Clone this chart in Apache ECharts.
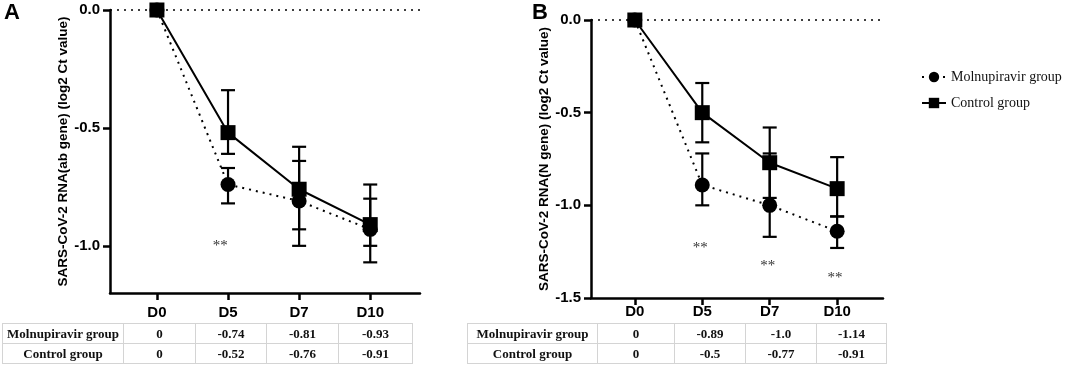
<!DOCTYPE html>
<html>
<head>
<meta charset="utf-8">
<script src="https://cdn.jsdelivr.net/npm/echarts@6/dist/echarts.min.js"></script>
<style>
  body{margin:0;background:#fff;}
  #wrap{position:relative;width:1065px;height:368px;}
  #chart{position:absolute;left:0;top:0;width:1065px;height:368px;}
  table.tb{position:absolute;border-collapse:collapse;font-family:"Liberation Serif",serif;font-weight:bold;font-size:13px;color:#111;}
  table.tb td{border:1px solid #d4d4d4;height:19px;padding:0;text-align:center;}
</style>
</head>
<body>
<div id="wrap">
  <div id="chart"></div>
</div>
<script>
var days = ['D0','D5','D7','D10'];

// panel A (ab gene)
var molA = [0,-0.74,-0.81,-0.93];
var ctlA = [0,-0.52,-0.76,-0.91];
var molAErr = [[0,0],[-0.67,-0.82],[-0.64,-1.0],[-0.80,-1.0]];
var ctlAErr = [[0,0],[-0.34,-0.61],[-0.58,-0.93],[-0.74,-1.07]];
var starsA = [[0.89,-1.0]];
var molATxt = ['0','-0.74','-0.81','-0.93'];
var ctlATxt = ['0','-0.52','-0.76','-0.91'];

// panel B (N gene)
var molB = [0,-0.89,-1.0,-1.14];
var ctlB = [0,-0.5,-0.77,-0.91];
var molBErr = [[0,0],[-0.72,-1.0],[-0.72,-1.17],[-1.06,-1.23]];
var ctlBErr = [[0,0],[-0.34,-0.66],[-0.58,-0.96],[-0.74,-1.06]];
var starsB = [[0.97,-1.23],[1.97,-1.33],[2.97,-1.39]];
var molBTxt = ['0','-0.89','-1.0','-1.14'];
var ctlBTxt = ['0','-0.5','-0.77','-0.91'];

var MOL = 'Molnupiravir group', CTL = 'Control group';

function pts(arr){ return arr.map(function(v,i){ return [i,v]; }); }
function errs(arr){ return arr.map(function(e,i){ return [i,e[0],e[1]]; }); }

function errRender(params, api){
  var x = api.value(0), hi = api.value(1), lo = api.value(2);
  if (hi === lo) return;
  var a = api.coord([x,hi]), b = api.coord([x,lo]);
  var w = 7, st = {stroke:'#000', lineWidth:2.2};
  return {type:'group', children:[
    {type:'line', shape:{x1:a[0],y1:a[1],x2:b[0],y2:b[1]}, style:st},
    {type:'line', shape:{x1:a[0]-w,y1:a[1],x2:a[0]+w,y2:a[1]}, style:st},
    {type:'line', shape:{x1:b[0]-w,y1:b[1],x2:b[0]+w,y2:b[1]}, style:st}
  ]};
}
function starRender(params, api){
  var p = api.coord([api.value(0), api.value(1)]);
  return {type:'text', x:p[0], y:p[1],
    style:{text:'**', fill:'#333', font:'15px "Liberation Serif"', align:'center', verticalAlign:'middle'}};
}

function xAx(gi, min, max, margin){
  return {type:'value', gridIndex:gi, min:min, max:max,
    axisLine:{onZero:false, lineStyle:{color:'#000', width:2.5}},
    axisTick:{customValues:[0,1,2,3], length:7, lineStyle:{color:'#000', width:2.5}},
    axisLabel:{customValues:[0,1,2,3], margin:margin, color:'#000', fontFamily:'Arial', fontWeight:'bold', fontSize:15,
      formatter:function(v){ return days[Math.round(v)]; }},
    splitLine:{show:false}};
}
function yAx(gi, min, vals, name){
  return {type:'value', gridIndex:gi, min:min, max:0,
    name:name, nameLocation:'middle', nameGap:40,
    nameTextStyle:{color:'#000', fontFamily:'Arial', fontWeight:'bold', fontSize:13.5},
    axisLine:{show:true, onZero:false, lineStyle:{color:'#000', width:2.5}},
    axisTick:{show:true, customValues:vals, length:7, lineStyle:{color:'#000', width:2.5}},
    axisLabel:{customValues:vals, margin:10, color:'#000', fontFamily:'Arial', fontWeight:'bold', fontSize:15,
      formatter:function(v){ return v.toFixed(1); }},
    splitLine:{show:false}};
}
function lineSeries(gi, name, data, dotted, sym, size, z){
  return {type:'line', name:name, xAxisIndex:gi, yAxisIndex:gi, data:pts(data),
    symbol:sym, symbolSize:size, z:z,
    itemStyle:{color:'#000'},
    lineStyle:{color:'#000', width:2, type: dotted ? [2,5] : 'solid'},
    emphasis:{disabled:true}};
}
function errSeries(gi, data){
  return {type:'custom', xAxisIndex:gi, yAxisIndex:gi, renderItem:errRender, data:errs(data), z:1, silent:true};
}
function starSeries(gi, data){
  return {type:'custom', xAxisIndex:gi, yAxisIndex:gi, renderItem:starRender, data:data, silent:true};
}
function zeroLine(gi){
  return {type:'line', xAxisIndex:gi, yAxisIndex:gi, data:[], silent:true,
    markLine:{silent:true, symbol:'none', label:{show:false},
      lineStyle:{color:'#000', width:1.6, type:[2,5]}, data:[{yAxis:0}]}};
}

var chart = echarts.init(document.getElementById('chart'));
chart.setOption({
  animation:false,
  grid:[
    {left:110, top:10, width:310, height:283},
    {left:591, top:20, width:292, height:278}
  ],
  xAxis:[ xAx(0,-0.66,3.7,12), xAx(1,-0.65,3.68,6) ],
  yAxis:[
    yAx(0,-1.2,[0,-0.5,-1.0],'SARS-CoV-2 RNA(ab gene) (log2 Ct value)'),
    yAx(1,-1.5,[0,-0.5,-1.0,-1.5],'SARS-CoV-2 RNA(N gene) (log2 Ct value)')
  ],
  legend:{data:[MOL,CTL], orient:'vertical', left:916, top:65, itemWidth:24, itemHeight:13, itemGap:12,
    textStyle:{color:'#111', fontFamily:'Liberation Serif', fontSize:14}},
  graphic:[
    {type:'text', left:4, top:2, style:{text:'A', font:'bold 22px Arial', fill:'#000'}},
    {type:'text', left:532, top:2, style:{text:'B', font:'bold 22px Arial', fill:'#000'}}
  ],
  series:[
    zeroLine(0), zeroLine(1),
    errSeries(0, molAErr), errSeries(0, ctlAErr),
    errSeries(1, molBErr), errSeries(1, ctlBErr),
    lineSeries(0, MOL, molA, true, 'circle', 15, 3),
    lineSeries(0, CTL, ctlA, false, 'rect', 15, 4),
    lineSeries(1, MOL, molB, true, 'circle', 15, 3),
    lineSeries(1, CTL, ctlB, false, 'rect', 15, 4),
    starSeries(0, starsA), starSeries(1, starsB)
  ]
});

// tables under the panels
function makeTable(left, widths, rows){
  var t = document.createElement('table');
  t.className = 'tb';
  t.style.left = left + 'px';
  t.style.top = '323px';
  rows.forEach(function(r){
    var tr = document.createElement('tr');
    r.forEach(function(c, i){
      var td = document.createElement('td');
      td.style.width = (widths[i]-1) + 'px';
      td.textContent = c;
      tr.appendChild(td);
    });
    t.appendChild(tr);
  });
  document.getElementById('wrap').appendChild(t);
}
makeTable(2, [121,72,71,72,74], [[MOL].concat(molATxt), [CTL].concat(ctlATxt)]);
makeTable(467, [130,77,71,71,70], [[MOL].concat(molBTxt), [CTL].concat(ctlBTxt)]);
</script>
</body>
</html>
